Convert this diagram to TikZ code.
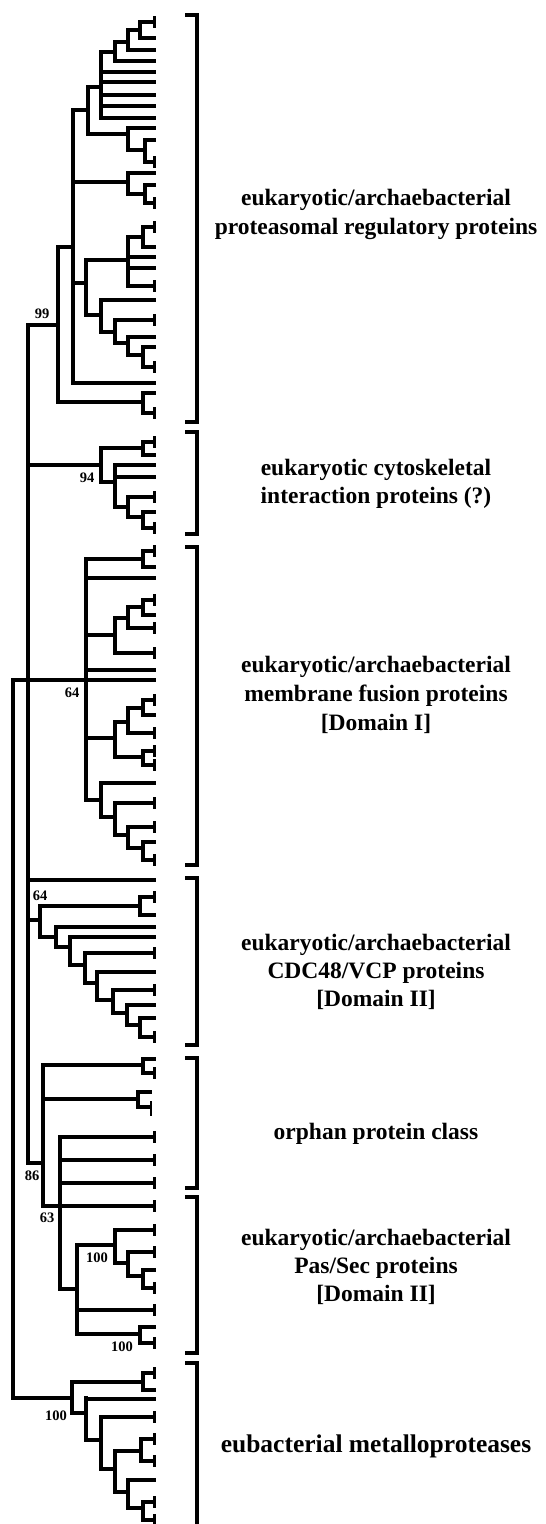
\documentclass[tikz,border=0pt]{standalone}
\usepackage{fontspec}
\setmainfont{Liberation Serif}
\tikzset{
  tr/.style={line width=3.2pt, line cap=butt},
  trv/.style={line width=3.2pt, line cap=rect},
  tk/.style={line width=2.8pt, line cap=butt},
  brk/.style={line width=4.8pt, line join=miter, line cap=butt},
  lab/.style={font=\fontsize{23.5}{28}\selectfont\bfseries, anchor=base, inner sep=0pt},
  boot/.style={font=\fontsize{14.5}{16}\selectfont\bfseries, inner sep=0pt}
}
\newcommand\tipx{156}
\newcommand\clade[3]{\draw[trv] (#1,#2) -- (#1,#3);}
\newcommand\brn[3]{\draw[tr] (#1,#3) -- (#2,#3);}
\newcommand\lf[2]{\draw[tr] (#1,#2) -- (\tipx,#2);}
\newcommand\lft[2]{\draw[tr] (#1,#2) -- (\tipx,#2); \draw[tk] (\tipx-1.4,#2-6) -- (\tipx-1.4,#2+6);}
\begin{document}
\begin{tikzpicture}[x=1pt,y=-1pt]
\useasboundingbox (0,0) rectangle (546,1524);
% ---------- proteasomal clade ----------
\brn{28}{58}{325}
\clade{58}{247}{402}
\brn{58}{73}{247}
\brn{58}{143}{402}
\clade{143}{393}{413} \lf{143}{393} \lft{143}{413}
\clade{73}{110}{383}
\brn{73}{88}{110}
\clade{88}{87}{134}
\brn{88}{101}{87}
\clade{101}{52}{118}
\brn{101}{115}{52}
\clade{115}{42}{61}
\brn{115}{128}{42}
\clade{128}{30}{50}
\brn{128}{140}{30}
\clade{140}{22}{38} \lft{140}{22} \lf{140}{38}
\lf{128}{50}
\lf{115}{61}
\foreach \yy in {72,82,95,106,118} {\lf{101}{\yy}}
\brn{88}{128}{134}
\clade{128}{128}{150}
\lf{128}{128}
\brn{128}{145}{150}
\clade{145}{140}{162} \lf{145}{140} \lft{145}{162}
\brn{73}{128}{182}
\clade{128}{173}{194}
\lf{128}{173}
\brn{128}{145}{194}
\clade{145}{185}{203} \lf{145}{185} \lft{145}{203}
\brn{73}{86}{283}
\clade{86}{260}{315}
\brn{86}{128}{260}
\clade{128}{237}{286}
\brn{128}{143}{237}
\clade{143}{227}{247} \lft{143}{227} \lf{143}{247}
\lf{128}{257} \lf{128}{268} \lft{128}{286}
\brn{86}{101}{315}
\clade{101}{300}{332}
\lf{101}{300}
\brn{101}{115}{332}
\clade{115}{320}{343}
\lft{115}{320}
\brn{115}{128}{343}
\clade{128}{337}{355}
\lf{128}{337}
\brn{128}{143}{355}
\clade{143}{347}{367} \lf{143}{347} \lft{143}{367}
\lf{73}{383}
% ---------- cytoskeletal clade ----------
\brn{28}{101}{465}
\clade{101}{448}{482}
\brn{101}{143}{448}
\clade{143}{442}{455} \lft{143}{442} \lf{143}{455}
\brn{101}{115}{482}
\clade{115}{465}{507}
\lf{115}{465} \lf{115}{477}
\brn{115}{128}{507}
\clade{128}{497}{517}
\lft{128}{497}
\brn{128}{143}{517}
\clade{143}{512}{528} \lf{143}{512} \lft{143}{528}
% ---------- membrane fusion clade ----------
\brn{13}{86}{680}
\clade{86}{559}{800}
\brn{86}{143}{559}
\clade{143}{551}{567} \lft{143}{551} \lf{143}{567}
\lf{86}{578}
\brn{86}{115}{635}
\clade{115}{618}{653}
\brn{115}{128}{618}
\clade{128}{607}{628}
\brn{128}{143}{607}
\clade{143}{600}{615} \lft{143}{600} \lf{143}{615}
\lft{128}{628}
\lft{115}{653}
\lf{86}{670} \lf{86}{680}
\brn{86}{115}{738}
\clade{115}{722}{757}
\brn{115}{128}{722}
\clade{128}{708}{733}
\brn{128}{143}{708}
\clade{143}{700}{715} \lft{143}{700} \lf{143}{715}
\lft{128}{733}
\brn{115}{143}{757}
\clade{143}{751}{765} \lft{143}{751} \lft{143}{765}
\brn{86}{101}{800}
\clade{101}{783}{817}
\lf{101}{783}
\brn{101}{115}{817}
\clade{115}{803}{835}
\lft{115}{803}
\brn{115}{128}{835}
\clade{128}{827}{848}
\lft{128}{827}
\brn{128}{143}{848}
\clade{143}{842}{860} \lf{143}{842} \lft{143}{860}
% ---------- main polytomy ----------
\clade{28}{325}{1163}
\lf{28}{880}
% ---------- CDC48 clade ----------
\brn{28}{40}{920}
\clade{40}{906}{937}
\brn{40}{140}{906}
\clade{140}{897}{915} \lft{140}{897} \lf{140}{915}
\brn{40}{56}{937}
\clade{56}{927}{947}
\lf{56}{927}
\brn{56}{70}{947}
\clade{70}{937}{965}
\lf{70}{937}
\brn{70}{85}{965}
\clade{85}{953}{983}
\lft{85}{953}
\brn{85}{97}{983}
\clade{97}{972}{1000}
\lf{97}{972}
\brn{97}{113}{1000}
\clade{113}{990}{1013}
\lft{113}{990}
\brn{113}{127}{1013}
\clade{127}{1005}{1025}
\lf{127}{1005}
\brn{127}{140}{1025}
\clade{140}{1018}{1037} \lf{140}{1018} \lft{140}{1037}
% ---------- orphan + Pas/Sec ----------
\brn{28}{43}{1163}
\clade{43}{1065}{1206}
\brn{43}{143}{1065}
\clade{143}{1059}{1073} \lf{143}{1059} \lft{143}{1073}
\brn{43}{138}{1099}
\clade{138}{1092}{1107} \draw[tr] (138,1092) -- (152,1092); \draw[tr] (138,1107) -- (152,1107);
\draw[tk] (151,1101) -- (151,1116);
\brn{43}{60}{1206}
\clade{60}{1137}{1289}
\lft{60}{1137} \lft{60}{1160} \lft{60}{1183} \lft{60}{1206}
\brn{60}{77}{1289}
\clade{77}{1245}{1334}
\brn{77}{115}{1245}
\clade{115}{1230}{1263}
\lft{115}{1230}
\brn{115}{128}{1263}
\clade{128}{1252}{1276}
\lft{128}{1252}
\brn{128}{143}{1276}
\clade{143}{1270}{1288} \lf{143}{1270} \lft{143}{1288}
\lft{77}{1310}
\brn{77}{140}{1334}
\clade{140}{1327}{1343} \lf{140}{1327} \lft{140}{1343}
% ---------- root + eubacterial ----------
\clade{13}{680}{1398}
\brn{13}{72}{1398}
\clade{72}{1382}{1413}
\brn{72}{143}{1382}
\clade{143}{1373}{1390} \lft{143}{1373} \lf{143}{1390}
\brn{72}{86}{1413}
\clade{86}{1398}{1440}
\lf{86}{1399}
\brn{86}{101}{1440}
\clade{101}{1417}{1469}
\lft{101}{1417}
\brn{101}{115}{1469}
\clade{115}{1451}{1492}
\brn{115}{141}{1451}
\clade{141}{1439}{1461} \lft{141}{1439} \lft{141}{1461}
\brn{115}{128}{1492}
\clade{128}{1480}{1508}
\lf{128}{1480}
\brn{128}{143}{1508}
\clade{143}{1502}{1520} \lft{143}{1502} \lft{143}{1520}
% ---------- bootstrap values ----------
\node[boot] (b99) at (42,314) {99};
\node[boot] (b94) at (87,478) {94};
\node[boot] (b64a) at (72,693) {64};
\node[boot] (b64b) at (40,896) {64};
\node[boot] (b86) at (32,1176) {86};
\node[boot] (b63) at (47,1218) {63};
\node[boot] (b100a) at (97,1258) {100};
\node[boot] (b100b) at (122,1347) {100};
\node[boot] (b100c) at (56,1416) {100};
% ---------- brackets ----------
\draw[brk] (185,15) -- (197,15) -- (197,422) -- (185,422);
\draw[brk] (185,432) -- (197,432) -- (197,534) -- (185,534);
\draw[brk] (185,547) -- (197,547) -- (197,865) -- (185,865);
\draw[brk] (185,878) -- (197,878) -- (197,1045) -- (185,1045);
\draw[brk] (185,1058) -- (197,1058) -- (197,1188) -- (185,1188);
\draw[brk] (185,1197) -- (197,1197) -- (197,1353) -- (185,1353);
\draw[brk] (185,1363) -- (197,1363) -- (197,1530);
% ---------- group labels ----------
\node[lab] (t1a) at (376,205) {eukaryotic/archaebacterial};
\node[lab] (t1b) at (376,234) {proteasomal regulatory proteins};
\node[lab] (t2a) at (376,475) {eukaryotic cytoskeletal};
\node[lab] (t2b) at (376,503) {interaction proteins (?)};
\node[lab] (t3a) at (376,672) {eukaryotic/archaebacterial};
\node[lab] (t3b) at (376,701) {membrane fusion proteins};
\node[lab] (t3c) at (376,730) {[Domain I]};
\node[lab] (t4a) at (376,950) {eukaryotic/archaebacterial};
\node[lab] (t4b) at (376,978) {CDC48/VCP proteins};
\node[lab] (t4c) at (376,1006) {[Domain II]};
\node[lab] (t5) at (376,1139) {orphan protein class};
\node[lab] (t6a) at (376,1245) {eukaryotic/archaebacterial};
\node[lab] (t6b) at (376,1273) {Pas/Sec proteins};
\node[lab] (t6c) at (376,1301) {[Domain II]};
\node[lab, font=\fontsize{25.5}{30}\selectfont\bfseries] (t7) at (376,1452) {eubacterial metalloproteases};
\end{tikzpicture}
\end{document}
